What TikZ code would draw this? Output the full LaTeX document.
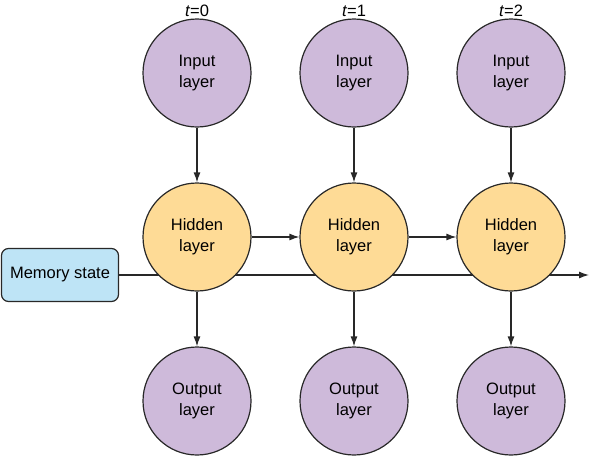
\documentclass[tikz,border=0pt]{standalone}
\usepackage{fontspec}
\setmainfont{Liberation Sans}
\usetikzlibrary{arrows.meta}
\definecolor{inpurple}{RGB}{206,186,218}
\definecolor{hidorange}{RGB}{254,219,150}
\definecolor{memblue}{RGB}{190,228,246}
\definecolor{edgegray}{RGB}{40,40,40}
\begin{document}
\begin{tikzpicture}[x=1pt,y=-1pt,
  font=\fontsize{16.5}{21}\selectfont,
  layer/.style={circle,draw=edgegray,line width=1.2pt,minimum size=108pt,inner sep=0pt,align=center},
  inlayer/.style={layer,fill=inpurple},
  hidlayer/.style={layer,fill=hidorange},
  membox/.style={draw=edgegray,line width=1.2pt,fill=memblue,rounded corners=7pt,minimum width=117pt,minimum height=53pt,inner sep=0pt},
  conn/.style={draw=edgegray,line width=1.2pt,-{Latex[length=10pt,width=7pt]}},
  tlabel/.style={inner sep=0pt}]
\useasboundingbox (0,0) rectangle (590,456);
\node[membox] (mem) at (60,275) {Memory state};
\coordinate (memend) at (589,275);
\draw[conn] (mem.east) -- (memend);
\foreach \i/\x in {0/197,1/354,2/511}{
  \node[tlabel] (t\i) at (\x,11) {\textit{t}=\i};
  \node[inlayer] (in\i) at (\x,73) {Input\\layer};
  \node[hidlayer] (hid\i) at (\x,237) {Hidden\\layer};
  \node[inlayer] (out\i) at (\x,401) {Output\\layer};
  \draw[conn] (in\i) -- (hid\i);
  \draw[conn] (hid\i) -- (out\i);
}
\draw[conn] (hid0) -- (hid1);
\draw[conn] (hid1) -- (hid2);
\end{tikzpicture}
\end{document}
